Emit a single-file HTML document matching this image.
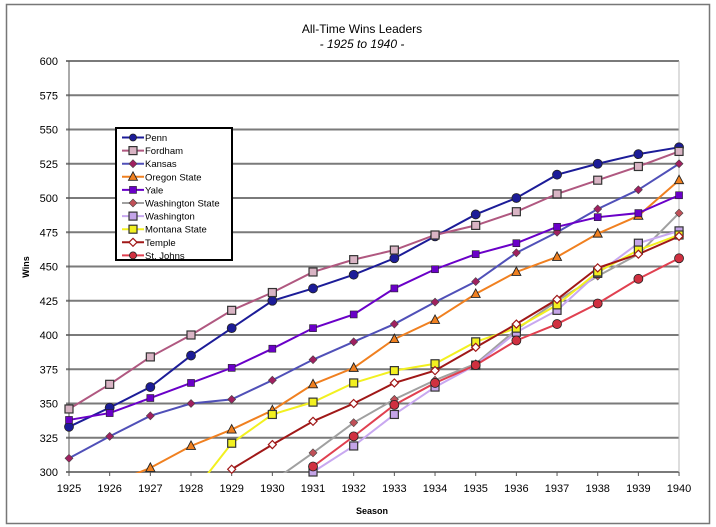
<!DOCTYPE html>
<html><head><meta charset="utf-8"><style>
body{margin:0;background:#fff;}
svg{display:block;font-family:"Liberation Sans",Arial,sans-serif;}
</style></head><body>
<svg id="c" width="716" height="527" viewBox="0 0 716 527" xmlns="http://www.w3.org/2000/svg"></svg>
<script>
const S=document.getElementById('c');let h='';
const X=y=>69+(y-1925)*40.67, Y=v=>472-(v-300)*1.37;
h+='<rect x="6.5" y="4.5" width="703" height="519" fill="#fff" stroke="#777" stroke-width="1.5"/>';
h+='<text x="362" y="33" font-size="12" text-anchor="middle">All-Time Wins Leaders</text>';
h+='<text x="362" y="48" font-size="12" font-style="italic" text-anchor="middle">- 1925 to 1940 -</text>';
for(let v=300;v<=600;v+=25){h+=`<line x1="66" x2="679" y1="${Y(v)}" y2="${Y(v)}" stroke="#7a7a7a" stroke-width="2"/>`;
h+=`<text x="58" y="${Y(v)+4}" font-size="11" text-anchor="end">${v}</text>`;}
h+=`<line x1="69" x2="69" y1="61" y2="476" stroke="#555" stroke-width="1"/>`;
h+=`<line x1="679" x2="679" y1="61" y2="472" stroke="#bbb" stroke-width="1"/>`;
for(let y=1925;y<=1940;y++){h+=`<line x1="${X(y)}" x2="${X(y)}" y1="472" y2="476" stroke="#555"/>`;
h+=`<text x="${X(y)}" y="492" font-size="11" text-anchor="middle">${y}</text>`;}
h+='<text x="372" y="514" font-size="9" font-weight="bold" text-anchor="middle">Season</text>';
h+='<text transform="translate(29,267) rotate(-90)" font-size="9" font-weight="bold" text-anchor="middle">Wins</text>';
const D=[
["Penn","#1c1c98","circle","#1c1c98",1925,[333,347,362,385,405,425,434,444,456,472,488,500,517,525,532,537]],
["Fordham","#b05880","square","#d9b4c4",1925,[346,364,384,400,418,431,446,455,462,473,480,490,503,513,523,534]],
["Kansas","#5050b8","diamond","#a02060",1925,[310,326,341,350,353,367,382,395,408,424,439,460,475,492,506,525]],
["Oregon State","#f08020","tri","#f08020",1926,[291,303,319,331,345,364,376,397,411,430,446,457,474,487,513]],
["Yale","#6a00c8","sq","#6a00c8",1925,[338,343,354,365,376,390,405,415,434,448,459,467,479,486,489,502]],
["Washington State","#a0a0a0","diamond","#c05058",1930,[293,314,336,353,367,379,404,425,443,459,489]],
["Washington","#c8a8f0","square","#c4a4e8",1931,[300,319,342,362,378,402,418,445,467,476]],
["Montana State","#f2f020","square","#f2f020",1928,[283,321,342,351,365,374,379,395,405,422,446,462,473]],
["Temple","#a01818","odiamond","#fff",1929,[302,320,337,350,365,374,391,408,426,449,459,472]],
["St. Johns","#e04050","circle","#d03040",1931,[304,326,349,365,378,396,408,423,441,456]]];
function mk(t,x,y,c,lc){
 if(t=="circle")return `<circle cx="${x}" cy="${y}" r="4.5" fill="${c}" stroke="#222" stroke-width="0.8"/>`;
 if(t=="square")return `<rect x="${x-4}" y="${y-4}" width="8" height="8" fill="${c}" stroke="#333" stroke-width="1.2"/>`;
 if(t=="sq")return `<rect x="${x-3.5}" y="${y-3.5}" width="7" height="7" fill="${c}" stroke="#222" stroke-width="0.6"/>`;
 if(t=="tri")return `<path d="M${x} ${y-5}L${x+4.5} ${y+3.5}L${x-4.5} ${y+3.5}Z" fill="${c}" stroke="#222" stroke-width="0.9"/>`;
 if(t=="diamond")return `<path d="M${x} ${y-4}L${x+4} ${y}L${x} ${y+4}L${x-4} ${y}Z" fill="${c}" stroke="#444" stroke-width="0.6"/>`;
 return `<path d="M${x} ${y-4}L${x+4} ${y}L${x} ${y+4}L${x-4} ${y}Z" fill="#fff" stroke="${lc}" stroke-width="1.2"/>`;}
h+='<defs><clipPath id="cp"><rect x="60" y="55" width="630" height="418"/></clipPath></defs>';
let mks='';
D.forEach(d=>{const pts=d[5].map((v,i)=>[X(d[4]+i),Y(v),v]);
 h+=`<polyline clip-path="url(#cp)" points="${pts.map(p=>p[0]+','+p[1]).join(' ')}" fill="none" stroke="${d[1]}" stroke-width="2"/>`;
 pts.forEach(p=>{if(p[2]>=300)mks+=mk(d[2],p[0],p[1],d[3],d[1]);});});
h+=mks;
h+='<rect x="116" y="128" width="116" height="132" fill="#fff" stroke="#000" stroke-width="2"/>';
D.forEach((d,i)=>{const y=137.5+i*13.1;
 h+=`<line x1="122" x2="144" y1="${y}" y2="${y}" stroke="${d[1]}" stroke-width="2"/>`+mk(d[2],133,y,d[3],d[1]).replace(/r="4.5"/,'r="3.5"');
 h+=`<text x="145" y="${y+3.5}" font-size="9.5">${d[0]}</text>`;});
S.innerHTML=h;
</script>
</body></html>
